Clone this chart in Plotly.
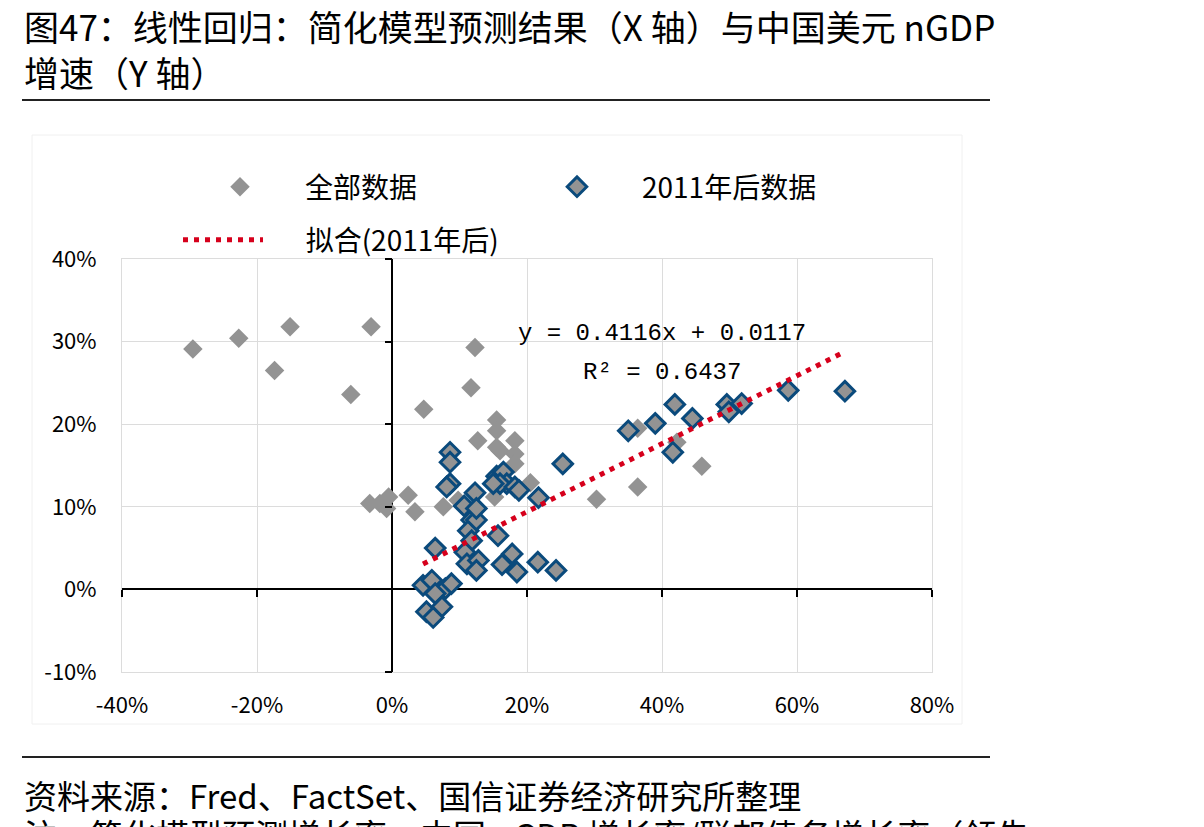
import plotly.graph_objects as go

# ---- data (percent) ----
blue_x = [4.6, 5.9, 7.9, 6.4, 8.8, 5.1, 7.4, 6.1, 6.4,
          8.6, 8.6, 8.6, 8.1, 12.3, 10.7, 11.8, 11.3, 12.5, 12.5,
          15.7, 11.8, 10.8, 11.1, 12.8, 12.5, 16.3, 17.8, 18.5, 21.6, 24.3,
          15.5, 16.5, 17.0, 16.0, 15.0, 18.2, 18.8, 21.7, 25.3,
          35.0, 39.0, 41.9, 44.5, 41.6, 49.6, 49.9, 51.8, 58.7, 67.1]
blue_y = [0.5, 1.1, 0.1, -0.5, 0.7, -2.7, -2.1, -3.4, 5.0,
          16.6, 15.4, 12.8, 12.4, 11.7, 10.1, 8.4, 7.1, 8.4, 9.8,
          6.5, 5.9, 4.5, 3.1, 3.5, 2.3, 3.0, 4.3, 2.1, 3.3, 2.3,
          13.7, 14.2, 12.8, 12.8, 12.8, 12.4, 12.0, 11.1, 15.2,
          19.2, 20.1, 22.4, 20.7, 16.6, 22.4, 21.5, 22.5, 24.1, 24.0]

gray_only_x = [-29.5, -22.7, -15.1, -3.1, -17.4, -6.1,
               -3.3, -1.8, -0.8, -0.5, 2.4, 3.4, 7.6, 9.8,
               12.3, 11.7, 4.7, 15.5, 15.5, 12.7, 18.2, 16.0, 18.2, 18.2, 15.5, 20.5, 15.2,
               30.3, 36.4, 45.9, 36.4, 42.2]
gray_only_y = [29.1, 30.4, 31.8, 31.8, 26.5, 23.6,
               10.4, 10.4, 9.8, 11.2, 11.4, 9.4, 10.0, 10.8,
               29.3, 24.4, 21.8, 20.5, 19.2, 18.0, 18.0, 16.8, 16.4, 15.2, 17.2, 12.9, 11.2,
               10.9, 12.4, 14.9, 19.5, 17.8]

all_x = gray_only_x + blue_x
all_y = gray_only_y + blue_y

# regression (2011 onwards) as reported on chart
slope = 0.4116
intercept = 0.0117
fit_x = [min(blue_x), max(blue_x)]
fit_y = [(slope * v / 100 + intercept) * 100 for v in fit_x]

x_ticks = [-40, -20, 0, 20, 40, 60, 80]
y_ticks = [-10, 0, 10, 20, 30, 40]
x_range = [-40, 80]
y_range = [-10, 40]

title_l1 = "图47：线性回归：简化模型预测结果（X 轴）与中国美元 nGDP"
title_l2 = "增速（Y 轴）"
source_txt = "资料来源：Fred、FactSet、国信证券经济研究所整理"
note_txt = "注：简化模型预测增长率：中国 nGDP 增长率/联邦债务增长率（领先"
eq_txt = "y = 0.4116x + 0.0117"
r2_txt = "R² = 0.6437"

GRAY = "#939393"
BLUE = "#0a4a7c"
RED = "#d6001c"
FONT = "Noto Sans CJK SC"

fig = go.Figure()
fig.add_trace(go.Scatter(x=all_x, y=all_y, mode="markers", name="全部数据",
                         marker=dict(symbol="diamond", size=15, color=GRAY),
                         legend="legend"))
fig.add_trace(go.Scatter(x=blue_x, y=blue_y, mode="markers", name="2011年后数据",
                         marker=dict(symbol="diamond", size=15, color=GRAY,
                                     line=dict(color=BLUE, width=3)),
                         legend="legend"))
fig.add_trace(go.Scatter(x=fit_x, y=fit_y, mode="lines",
                         name="\u00a0" * 6 + "拟合(2011年后)",
                         line=dict(color=RED, width=5, dash="5px,6px"),
                         legend="legend2"))
# helper trace for crossing axes with tick marks
fig.add_trace(go.Scatter(x=[None], y=[None], xaxis="x2", yaxis="y2",
                         showlegend=False, hoverinfo="skip"))

L, R, T, B = 122, 272, 259, 155
W, H = 1204, 827
pw, ph = W - L - R, H - T - B

def px_x(p):
    return (p - L) / pw

def px_y(p):
    return (H - B - p) / ph

fig.update_layout(
    width=W, height=H,
    margin=dict(l=L, r=R, t=T, b=B),
    paper_bgcolor="white", plot_bgcolor="white",
    font=dict(family=FONT, color="black", size=22),
    xaxis=dict(range=x_range, tickvals=x_ticks, ticktext=[f"{v}%" for v in x_ticks],
               showgrid=True, gridcolor="#dcdcdc", gridwidth=1,
               zeroline=True, zerolinecolor="black", zerolinewidth=2,
               showline=True, linecolor="#dcdcdc", linewidth=1, mirror=True,
               ticks="", ticklabelstandoff=14, tickfont=dict(size=22)),
    yaxis=dict(range=y_range, tickvals=y_ticks, ticktext=[f"{v}%" for v in y_ticks],
               showgrid=True, gridcolor="#dcdcdc", gridwidth=1,
               zeroline=True, zerolinecolor="black", zerolinewidth=2,
               showline=True, linecolor="#dcdcdc", linewidth=1, mirror=True,
               ticks="", ticklabelstandoff=20, tickfont=dict(size=22)),
    xaxis2=dict(overlaying="x", anchor="free",
                position=(0 - y_range[0]) / (y_range[1] - y_range[0]),
                range=x_range, tickvals=x_ticks, showticklabels=False,
                ticks="outside", ticklen=7, tickwidth=2, tickcolor="black",
                showgrid=False, zeroline=False, showline=False),
    yaxis2=dict(overlaying="y", anchor="free",
                position=(0 - x_range[0]) / (x_range[1] - x_range[0]),
                range=y_range, tickvals=y_ticks, showticklabels=False,
                ticks="outside", ticklen=7, tickwidth=2, tickcolor="black",
                showgrid=False, zeroline=False, showline=False),
    legend=dict(orientation="h", x=px_x(175), y=px_y(187), xanchor="left", yanchor="middle",
                entrywidth=202, entrywidthmode="pixels", itemwidth=120,
                font=dict(size=28, family=FONT), bgcolor="rgba(0,0,0,0)"),
    legend2=dict(orientation="h", x=px_x(178), y=px_y(240), xanchor="left", yanchor="middle",
                 itemwidth=80,
                 font=dict(size=28, family=FONT), bgcolor="rgba(0,0,0,0)"),
    showlegend=True,
)

# equation annotations
fig.add_annotation(x=40, y=31.0, xref="x", yref="y", text=eq_txt, showarrow=False,
                   font=dict(family="Liberation Mono", size=24, color="black"))
fig.add_annotation(x=40, y=26.3, xref="x", yref="y", text=r2_txt, showarrow=False,
                   font=dict(family="Liberation Mono", size=24, color="black"))

# title and footers
fig.add_annotation(x=px_x(22), y=px_y(25), xref="paper", yref="paper", text=title_l1,
                   showarrow=False, xanchor="left", yanchor="middle",
                   font=dict(family=FONT, size=35, color="black"))
fig.add_annotation(x=px_x(22), y=px_y(72), xref="paper", yref="paper", text=title_l2,
                   showarrow=False, xanchor="left", yanchor="middle",
                   font=dict(family=FONT, size=35, color="black"))
fig.add_annotation(x=px_x(22), y=px_y(795), xref="paper", yref="paper", text=source_txt,
                   showarrow=False, xanchor="left", yanchor="middle",
                   font=dict(family=FONT, size=33, color="black"))
fig.add_annotation(x=px_x(22), y=px_y(834), xref="paper", yref="paper", text=note_txt,
                   showarrow=False, xanchor="left", yanchor="middle",
                   font=dict(family=FONT, size=33, color="black"))

# separator rules and faint chart-area frame
fig.add_shape(type="line", xref="paper", yref="paper", x0=px_x(22), x1=px_x(990),
              y0=px_y(100), y1=px_y(100), line=dict(color="#222222", width=2))
fig.add_shape(type="line", xref="paper", yref="paper", x0=px_x(22), x1=px_x(990),
              y0=px_y(757), y1=px_y(757), line=dict(color="#222222", width=2))
fig.add_shape(type="rect", xref="paper", yref="paper", x0=px_x(32), x1=px_x(962),
              y0=px_y(135), y1=px_y(724), line=dict(color="#f0f0f0", width=1), layer="below")

fig.write_html("out.html")
